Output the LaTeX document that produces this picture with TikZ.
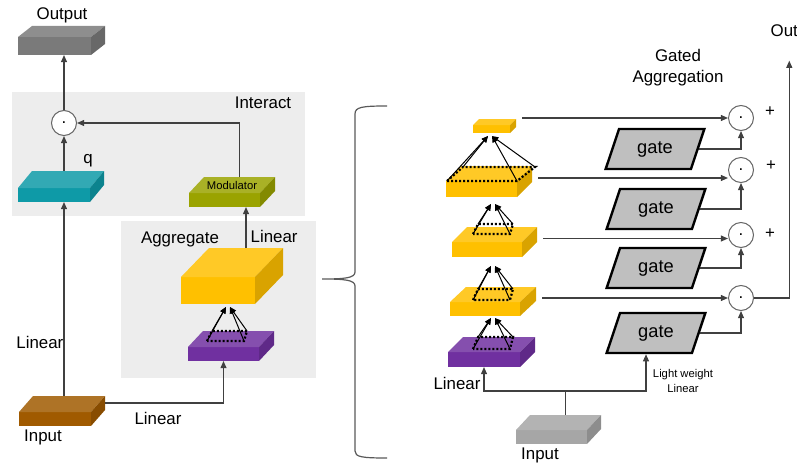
\documentclass[tikz,border=0pt]{standalone}
\usepackage{fontspec}
\setmainfont{Liberation Sans}
\usetikzlibrary{arrows.meta,shapes.geometric,calc}

\definecolor{panelgray}{HTML}{EDEDED}
\definecolor{outgray}{HTML}{7A7A7A}
\definecolor{qteal}{HTML}{0E9AA7}
\definecolor{modolive}{HTML}{9AA300}
\definecolor{aggyellow}{HTML}{FFC000}
\definecolor{aggpurple}{HTML}{7030A0}
\definecolor{inbrown}{HTML}{A05A00}
\definecolor{ingray}{HTML}{A6A6A6}
\definecolor{gategray}{HTML}{BFBFBF}
\definecolor{linegray}{HTML}{404040}

\tikzset{
  slabface/.style={anchor=north west, inner sep=0pt, outer sep=0pt, draw=none},
  txt/.style={font=\fontsize{12}{14}\selectfont, inner sep=1pt},
  smalltxt/.style={font=\fontsize{8}{10}\selectfont, inner sep=0pt, align=center},
  conn/.style={draw=linegray, line width=0.3mm, -{Triangle[length=1.8mm,width=1.5mm]}},
  plainline/.style={draw=linegray, line width=0.3mm},
  fanarrow/.style={draw=black, line width=0.25mm, -{Triangle[length=1.6mm,width=1.4mm]}},
  dotrim/.style={draw=black, line width=0.55mm, dash pattern=on 0.5mm off 0.5mm},
  dotcirc/.style={circle, draw=gray!80!black, fill=white, line width=0.25mm,
    minimum size=25*0.25mm, inner sep=0pt, font=\fontsize{12}{12}\selectfont},
  gatebox/.style={trapezium, trapezium left angle=67, trapezium right angle=113,
    trapezium stretches=true, draw=black, line width=0.6mm, fill=gategray,
    minimum width=99*0.25mm, minimum height=40*0.25mm, inner sep=0pt,
    font=\fontsize{13}{15}\selectfont},
}

% name, x, y, width, height, depth x, depth y, colour
\newcommand{\slab}[8]{%
  \node[slabface, fill=#8, minimum width=#4*0.25mm, minimum height=#5*0.25mm] (#1) at (#2,#3) {};
  \fill[#8!85!white] (#1.north west) -- ++(#6,-#7) -- ++(#4,0) -- (#1.north east) -- cycle;
  \fill[#8!85!black] (#1.north east) -- ++(#6,-#7) -- ++(0,#5) -- (#1.south east) -- cycle;
  \path (#1.north) ++(#6,-#7) coordinate (#1-back);
  \path (#1.north) ++(#6/2,-#7/2) coordinate (#1-top);
  \path (#1.east) ++(#6,-#7) coordinate (#1-r);
  \path (#1-r) ++(6,4) coordinate (#1-out);
}

% box, tip, x of the four corners, y low, y high
\newcommand{\fan}[8]{%
  \draw[dotrim] ($(#1.north west)+(#3,-#7)$) coordinate (#1-a)
    -- ($(#1.north west)+(#4,-#8)$) coordinate (#1-b)
    -- ($(#1.north west)+(#5,-#8)$) coordinate (#1-c)
    -- ($(#1.north west)+(#6,-#7)$) coordinate (#1-d) -- cycle;
  \foreach \k in {a,b} \draw[fanarrow] (#1-\k) -- ($(#2)+(-2,0)$);
  \foreach \k in {c,d} \draw[fanarrow] (#1-\k) -- ($(#2)+(2,0)$);
}

\begin{document}
\begin{tikzpicture}[x=0.25mm, y=-0.25mm]
  \useasboundingbox (0,0) rectangle (797,465);

  \fill[panelgray] (12,92) rectangle (305,216);
  \fill[panelgray] (121,221) rectangle (316,378);

  \slab{outL}{18}{37}{73}{18}{14}{11}{outgray}
  \slab{qL}{18}{188}{72}{14}{14}{17}{qteal}
  \slab{modL}{189}{193}{71}{14}{15}{16}{modolive}
  \slab{aggY}{181}{277}{74}{27}{28}{29}{aggyellow}
  \slab{pL}{188}{347}{71}{14}{15}{16}{aggpurple}
  \slab{inL}{19}{412}{72}{14}{14}{16}{inbrown}

  \node[dotcirc] (dotL) at (64,123) {.};

  \node[txt] (outLtxt) at (62,15) {Output};
  \node[txt] (interact) at (263,103) {Interact};
  \node[txt] (qtxt) at (88,161) {q};
  \node[smalltxt] (modtxt) at (modL-top) {Modulator};
  \node[txt] (aggtxt) at (180,239) {Aggregate};
  \node[txt, anchor=west] (linA) at (249,236) {Linear};
  \node[txt, anchor=east] (linB) at (65,342) {Linear};
  \node[txt] (linC) at (158,418) {Linear};
  \node[txt] (inLtxt) at (43,437) {Input};

  \draw[conn] (dotL) -- (outL.south -| dotL);
  \draw[conn] (qL-back -| dotL) -- (dotL);
  \draw[conn] (inL-back -| dotL) -- (qL.south -| dotL);
  \draw[conn] (modL-back) |- (dotL);
  \draw[conn] (aggY-back) -- (aggY-back |- modL.south);
  \draw[conn] (inL-r) -| (pL.south);

  \coordinate (pL-tip) at ($(aggY.south west)+(47,3)$);
  \fan{pL}{pL-tip}{19}{24}{59}{56}{6}{16}

  \draw[draw=gray!70!black, line width=0.3mm]
    (387,106) .. controls (362,106) and (355,107) .. (355,114) -- (355,272)
    .. controls (355,278) and (345,279) .. (322,279)
    .. controls (345,279) and (355,280) .. (355,286) -- (355,451)
    .. controls (355,457) and (362,458) .. (387,458);

  \slab{y0}{473}{125}{37}{8}{6}{6}{aggyellow}
  \slab{y1}{446}{181}{71}{16}{15}{15}{aggyellow}
  \slab{y2}{452}{242}{70}{15}{15}{15}{aggyellow}
  \slab{y3}{450}{302}{70}{14}{16}{15}{aggyellow}
  \slab{pR}{448}{352}{72}{15}{15}{15}{aggpurple}
  \slab{inR}{516}{430}{71}{14}{14}{15}{ingray}

  \coordinate (y1-tip) at ($(y0.south west)+(17,3)$);
  \coordinate (y2-tip) at ($(y1.south west)+(47,7)$);
  \coordinate (y3-tip) at ($(y2.south west)+(41,9)$);
  \coordinate (pR-tip) at ($(y3.south west)+(43,2)$);
  \fan{y1}{y1-tip}{1}{17}{89}{71}{0}{14}
  \fan{y2}{y2-tip}{21}{26}{61}{58}{8}{18}
  \fan{y3}{y3-tip}{23}{28}{63}{60}{2}{13}
  \fan{pR}{pR-tip}{25}{30}{65}{62}{3}{15}

  \node[dotcirc] (c1) at (741,118) {.};
  \node[dotcirc] (c2) at (741,170) {.};
  \node[dotcirc] (c3) at (741,235) {.};
  \node[dotcirc] (c4) at (741,298) {.};

  \node[gatebox] (g1) at (655,149) {gate};
  \node[gatebox] (g2) at (656,209) {gate};
  \node[gatebox] (g3) at (656,268) {gate};
  \node[gatebox] (g4) at (656,333) {gate};

  \node[txt] (plus1) at (770,112) {+};
  \node[txt] (plus2) at (771,166) {+};
  \node[txt] (plus3) at (770,234) {+};

  \node[txt, align=center, font=\fontsize{12}{15}\selectfont] (gated) at (678,68) {Gated\\Aggregation};
  \node[txt, anchor=west] (outR) at (769,31) {Out};
  \node[txt] (linD) at (457,383) {Linear};
  \node[smalltxt] (light) at (683,381) {Light weight\\Linear};
  \node[txt] (inRtxt) at (540,455) {Input};

  \draw[conn] (y0-out |- c1) -- (c1);
  \draw[conn] (y1-out) -- (y1-out -| c2.west);
  \draw[conn] (y2-out) -- (y2-out -| c3.west);
  \draw[conn] (y3-out) -- (y3-out -| c4.west);

  \draw[conn] (g1.east) -| (c1.south);
  \draw[conn] (g2.east) -| (c2.south);
  \draw[conn] (g3.east) -| (c3.south);
  \draw[conn] (g4.east) -| (c4.south);

  \coordinate (outtip) at ($(outR.south)+(5,22)$);
  \draw[conn] (c4.east) -| (outtip);

  \coordinate (split) at ($(inR-back)+(0,-24)$);
  \draw[plainline] (inR-back) -- (split);
  \draw[conn] (split) -| (pR.south);
  \draw[conn] (split) -| ([xshift=-2.5mm]g4.south);
\end{tikzpicture}
\end{document}
